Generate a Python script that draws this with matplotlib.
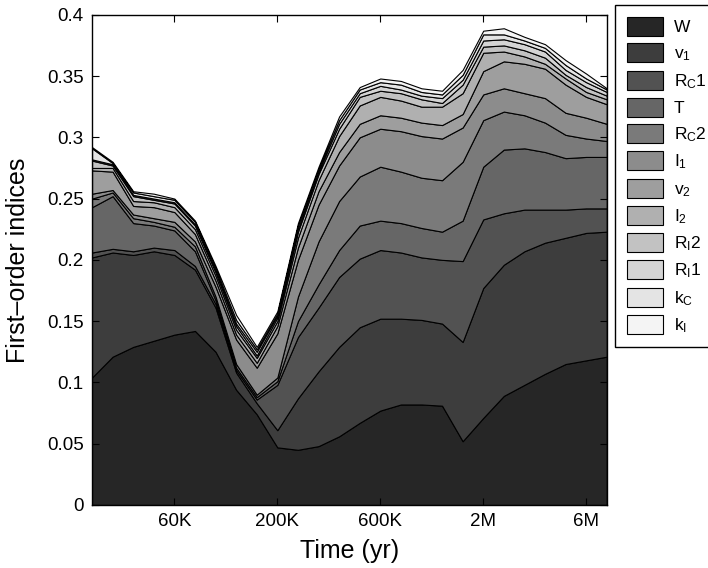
import matplotlib
matplotlib.use('Agg')
import matplotlib.pyplot as plt
from matplotlib.ticker import NullLocator

plt.rcParams['font.family'] = 'Liberation Sans'
plt.rcParams['mathtext.default'] = 'regular'

# sample times (yr), ten per decade
times = [23886, 30071, 37857, 47659, 60000, 75536, 95094, 119716, 150713, 189737,
         238864, 300712, 378574, 476597, 600000, 755355, 950943, 1197157, 1507132,
         1897367, 2388643, 3007115, 3785744, 4765965, 6000000, 7553553]

# first-order sensitivity index of each parameter at every time
W   = [.104, .121, .129, .134, .139, .142, .125, .094, .074, .047, .045, .048, .056,
       .067, .077, .082, .082, .081, .052, .071, .089, .098, .107, .115, .118, .121]
v1  = [.098, .085, .075, .073, .065, .050, .036, .014, .009, .014, .042, .061, .073,
       .078, .075, .070, .069, .067, .081, .106, .107, .109, .107, .103, .104, .102]
RC1 = [.004, .003, .003, .003, .004, .003, .003, .002, .003, .037, .050, .052, .057,
       .056, .056, .054, .051, .052, .066, .056, .042, .034, .027, .023, .020, .019]
T   = [.037, .043, .023, .018, .016, .012, .003, .002, .002, .003, .013, .019, .022,
       .027, .024, .024, .024, .023, .033, .043, .052, .050, .047, .042, .042, .042]
RC2 = [.007, .003, .004, .003, .003, .004, .003, .003, .002, .003, .020, .035, .040,
       .040, .044, .042, .041, .042, .048, .038, .031, .027, .024, .019, .015, .013]
I1  = [.004, .002, .003, .003, .004, .004, .008, .020, .022, .036, .030, .030, .029,
       .032, .031, .033, .034, .034, .028, .021, .019, .018, .020, .018, .017, .014]
v2  = [.019, .015, .007, .009, .008, .006, .005, .004, .004, .006, .010, .011, .011,
       .011, .011, .011, .011, .011, .011, .019, .022, .024, .024, .023, .017, .016]
I2  = [.002, .003, .004, .004, .004, .004, .004, .004, .004, .004, .008, .009, .013,
       .015, .015, .014, .013, .015, .017, .015, .008, .006, .004, .005, .004, .004]
RI2 = [.006, .002, .004, .002, .003, .003, .003, .003, .002, .003, .005, .005, .006,
       .007, .005, .006, .006, .003, .007, .005, .005, .005, .005, .003, .004, .003]
RI1 = [.001, .001, .001, .001, .001, .001, .001, .002, .003, .002, .002, .002, .004,
       .003, .004, .003, .003, .004, .004, .005, .005, .005, .005, .004, .004, .003]
kC  = [.009, .001, .002, .002, .002, .002, .002, .003, .002, .001, .003, .002, .003,
       .003, .003, .004, .003, .003, .004, .005, .004, .003, .003, .004, .003, .002]
kI  = [.001, .001, .001, .002, .001, .001, .002, .004, .002, .002, .002, .002, .003,
       .002, .003, .003, .003, .003, .004, .003, .005, .003, .003, .004, .004, .001]

labels = ['W', '$v_1$', '$R_C1$', 'T', '$R_C2$', '$I_1$', '$v_2$', '$I_2$',
          '$R_I2$', '$R_I1$', '$k_C$', '$k_I$']
grays = ['#262626', '#3d3d3d', '#525252', '#666666', '#7a7a7a', '#8c8c8c',
         '#9e9e9e', '#b0b0b0', '#c2c2c2', '#d4d4d4', '#e4e4e4', '#f4f4f4']

tick_times = [60000, 189737, 600000, 1897367, 6000000]
tick_labels = ['60K', '200K', '600K', '2M', '6M']
y_ticks = [0, 0.05, 0.1, 0.15, 0.2, 0.25, 0.3, 0.35, 0.4]
y_labels = ['0', '0.05', '0.1', '0.15', '0.2', '0.25', '0.3', '0.35', '0.4']

fig = plt.figure(figsize=(7.08, 5.68), dpi=100)
ax = fig.add_axes([0.130, 0.111, 0.727, 0.863])

polys = ax.stackplot(times, W, v1, RC1, T, RC2, I1, v2, I2, RI2, RI1, kC, kI,
                     colors=grays, labels=labels, edgecolor='k', linewidth=0.8)

ax.set_xscale('log')
ax.set_xlim(times[0], times[-1])
ax.set_ylim(0, 0.4)
ax.set_xticks(tick_times)
ax.set_xticklabels(tick_labels)
ax.xaxis.set_minor_locator(NullLocator())
ax.set_yticks(y_ticks)
ax.set_yticklabels(y_labels)
ax.tick_params(direction='in', top=True, right=True, length=5, width=0.8,
               labelsize=13.5, pad=6)
for s in ax.spines.values():
    s.set_linewidth(1.0)

ax.set_xlabel('Time (yr)', fontsize=18, labelpad=6)
ax.set_ylabel('First\u2013order indices', fontsize=18, labelpad=12)

leg = ax.legend(loc='upper left', bbox_to_anchor=(615 / 708, 1 - 5 / 568),
                bbox_transform=fig.transFigure, fancybox=False, edgecolor='k',
                framealpha=1, fontsize=12.5, handlelength=2.05, handleheight=1.3,
                labelspacing=0.42, handletextpad=0.65, borderpad=0.7,
                borderaxespad=0)
leg.get_frame().set_linewidth(1.0)

fig.savefig('out.png', dpi=100)
